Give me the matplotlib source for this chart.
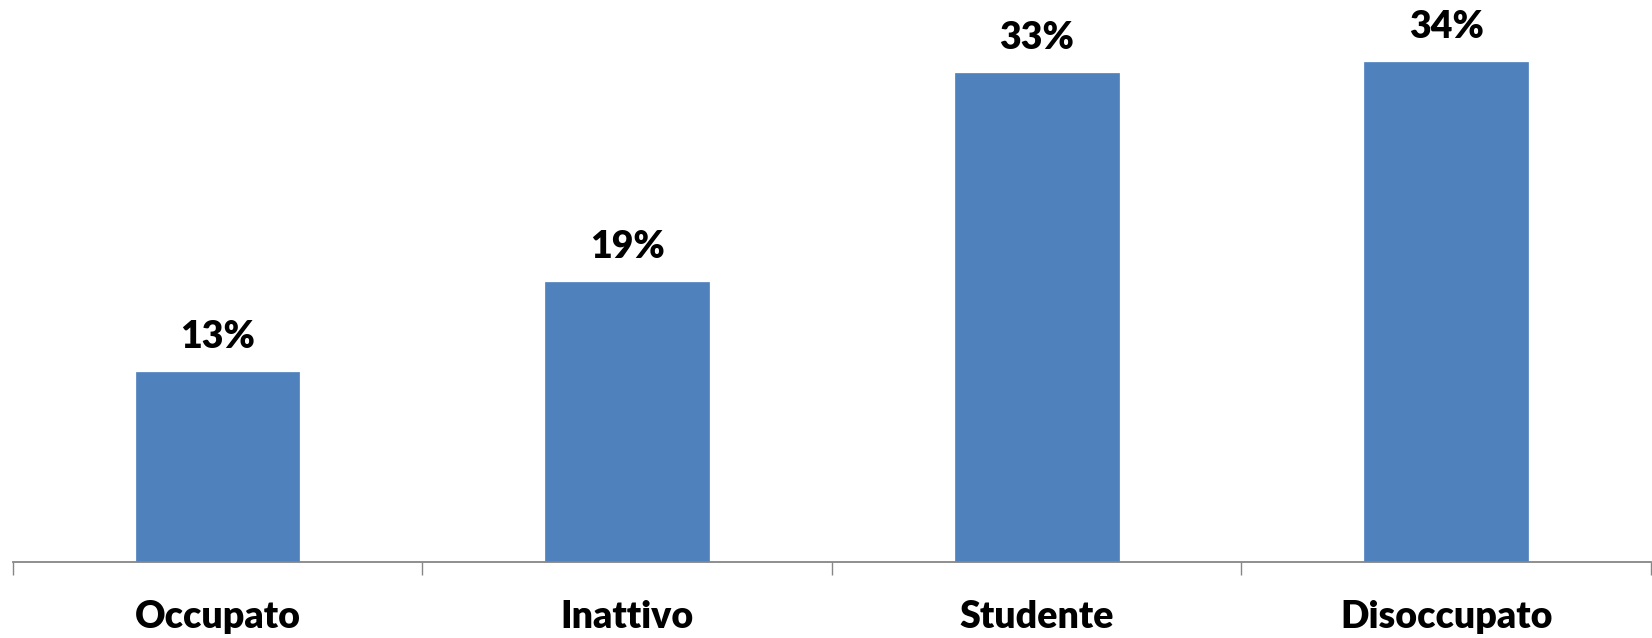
import matplotlib.pyplot as plt
import numpy as np

categories = ["Occupato", "Inattivo", "Studente", "Disoccupato"]
values = [12.9, 19.0, 33.2, 34.0]
labels = ["13%", "19%", "33%", "34%"]

plt.rcParams['font.family'] = ['Lato', 'DejaVu Sans']

fig = plt.figure(figsize=(16.52, 6.38), dpi=100)
ax = fig.add_axes([12.7 / 1652, (638 - 561.5) / 638, (1651 - 12.7) / 1652, 561.5 / 638])

x = np.arange(len(categories))
bars = ax.bar(x, values, width=0.4, color="#4F81BD", edgecolor="#4F81BD", lw=0.5)

for b, lab in zip(bars, labels):
    ax.annotate(lab, (b.get_x() + b.get_width() / 2, b.get_height()),
                xytext=(0, 17.3), textcoords="offset points",
                ha="center", va="baseline", fontsize=27, fontweight="heavy")

ax.set_xlim(-0.5, len(categories) - 0.5)
ax.set_ylim(0, 38.2)

# boundary ticks, labels at centers
ax.set_xticks(np.arange(len(categories) + 1) - 0.5)
ax.set_xticklabels([])
ax.tick_params(axis="x", which="major", direction="out", length=9.5, width=1, color="#868686")
ax.set_xticks(x, minor=True)
ax.set_xticklabels(categories, minor=True, fontsize=27, fontweight="heavy")
ax.tick_params(axis="x", which="minor", length=0, pad=28)

ax.set_yticks([])
for s in ["top", "right", "left"]:
    ax.spines[s].set_visible(False)
ax.spines["bottom"].set_color("#868686")
ax.spines["bottom"].set_linewidth(1.3)

plt.savefig("out.png", dpi=100)
